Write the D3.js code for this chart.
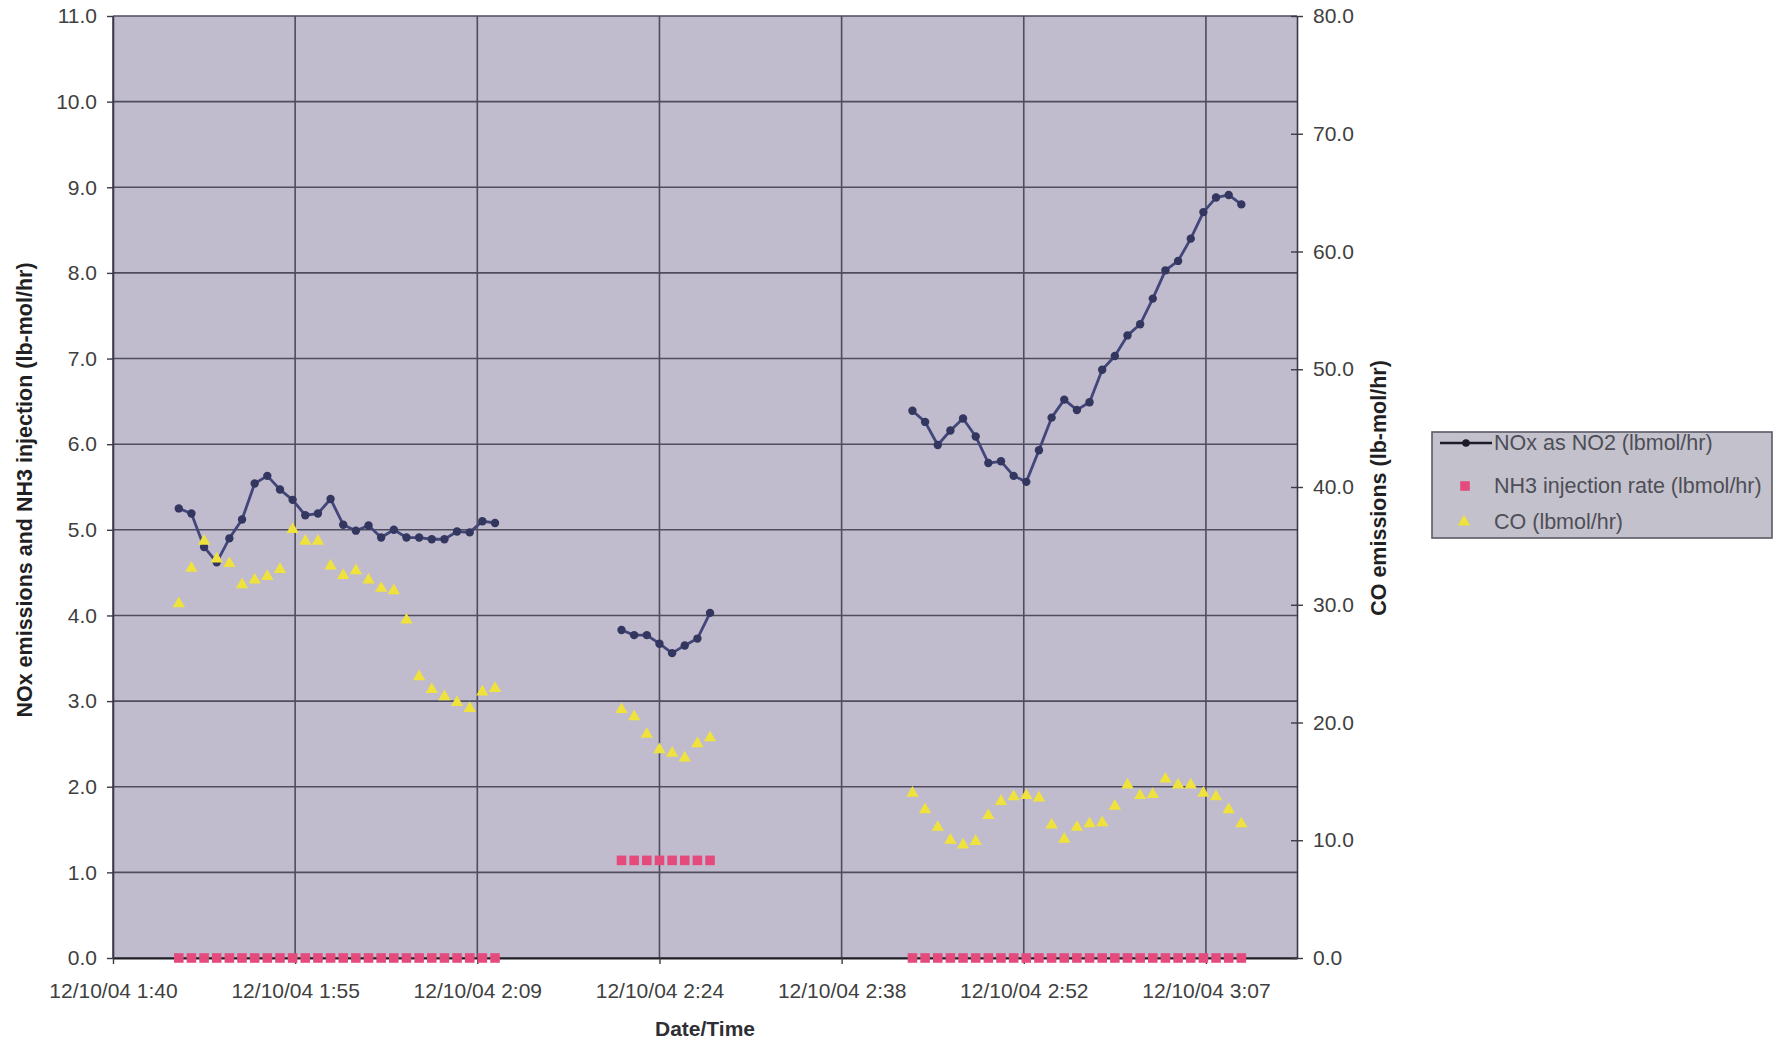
<!DOCTYPE html>
<html>
<head>
<meta charset="utf-8">
<script src="https://cdn.jsdelivr.net/npm/d3@7"></script>
<style>
  html, body { margin: 0; padding: 0; background: #ffffff; }
  svg { display: block; font-family: "Liberation Sans", Arial, sans-serif; }
</style>
</head>
<body>
<svg id="chart" width="1785" height="1041"></svg>
<script>
// ---- Run 1: 1:46 - 2:11 ----
const timesA = ["1:46","1:47","1:48","1:49","1:50","1:51","1:52","1:53","1:54","1:55","1:56","1:57","1:58",
                "1:59","2:00","2:01","2:02","2:03","2:04","2:05","2:06","2:07","2:08","2:09","2:10","2:11"];
const noxA = [5.25,5.19,4.80,4.62,4.90,5.12,5.54,5.63,5.47,5.35,5.17,5.19,5.36,
              5.06,4.99,5.05,4.91,5.00,4.91,4.91,4.89,4.89,4.98,4.97,5.10,5.08];
const nh3A = [0,0,0,0,0,0,0,0,0,0,0,0,0,0,0,0,0,0,0,0,0,0,0,0,0,0];
const coA  = [30.1,33.1,35.4,33.9,33.5,31.7,32.1,32.4,33.0,36.4,35.4,35.4,33.3,
              32.5,32.9,32.1,31.4,31.2,28.7,23.9,22.8,22.2,21.7,21.2,22.6,22.9];

// ---- Run 2: 2:21 - 2:28 ----
const timesB = ["2:21","2:22","2:23","2:24","2:25","2:26","2:27","2:28"];
const noxB = [3.83,3.77,3.77,3.67,3.56,3.65,3.73,4.03];
const nh3B = [1.14,1.14,1.14,1.14,1.14,1.14,1.14,1.14];
const coB  = [21.1,20.5,19.0,17.7,17.4,17.0,18.2,18.7];

// ---- Run 3: 2:44 - 3:10 ----
const timesC = ["2:44","2:45","2:46","2:47","2:48","2:49","2:50","2:51","2:52","2:53","2:54","2:55","2:56","2:57",
                "2:58","2:59","3:00","3:01","3:02","3:03","3:04","3:05","3:06","3:07","3:08","3:09","3:10"];
const noxC = [6.39,6.26,5.99,6.16,6.30,6.09,5.78,5.80,5.63,5.56,5.93,6.31,6.52,6.40,
              6.49,6.87,7.03,7.27,7.40,7.70,8.03,8.14,8.40,8.71,8.88,8.91,8.80];
const nh3C = [0,0,0,0,0,0,0,0,0,0,0,0,0,0,0,0,0,0,0,0,0,0,0,0,0,0,0];
const coC  = [14.0,12.6,11.1,10.0,9.6,9.9,12.1,13.3,13.7,13.8,13.6,11.3,10.1,11.1,
              11.4,11.5,12.9,14.7,13.8,13.9,15.2,14.7,14.7,14.0,13.7,12.6,11.4];

// ---- Axes ----
const xDomain = ["1:40:48","3:14:24"];
const xTicks = ["1:40:48","1:55:12","2:09:36","2:24:00","2:38:24","2:52:48","3:07:12"];
const leftTicks = [0,1,2,3,4,5,6,7,8,9,10,11];
const rightTicks = [0,10,20,30,40,50,60,70,80];

const seriesNames = ["NOx as NO2 (lbmol/hr)", "NH3 injection rate (lbmol/hr)", "CO (lbmol/hr)"];

const parseT = s => { const [h, m, sec] = s.split(":").map(Number); return new Date(2004, 11, 10, h, m, sec || 0); };

const runs = [
  {times: timesA, nox: noxA, nh3: nh3A, co: coA},
  {times: timesB, nox: noxB, nh3: nh3B, co: coB},
  {times: timesC, nox: noxC, nh3: nh3C, co: coC}
].map(r => r.times.map((t, i) => ({t: parseT(t), nox: r.nox[i], nh3: r.nh3[i], co: r.co[i]})));

const svg = d3.select("#chart");
const plot = {left: 113, right: 1297, top: 16, bottom: 958};

const x = d3.scaleTime().domain(xDomain.map(parseT)).range([plot.left, plot.right]);
const yL = d3.scaleLinear().domain([0, 11]).range([plot.bottom, plot.top]);
const yR = d3.scaleLinear().domain([0, 80]).range([plot.bottom, plot.top]);

const C = {
  bg: "#c0bccd", grid: "#4e4c5e", axis: "#3a3a44", tick: "#404040",
  nox: "#42467a", noxMark: "#33365e", nh3: "#e44b7c", co: "#f0e23c"
};

// plot area
svg.append("rect")
  .attr("x", plot.left).attr("y", plot.top)
  .attr("width", plot.right - plot.left).attr("height", plot.bottom - plot.top)
  .attr("fill", C.bg);

// gridlines
svg.append("g").selectAll("line").data(leftTicks).join("line")
  .attr("x1", plot.left).attr("x2", plot.right)
  .attr("y1", d => yL(d)).attr("y2", d => yL(d))
  .attr("stroke", C.grid).attr("stroke-width", 1.6);
svg.append("g").selectAll("line").data(xTicks.map(parseT)).join("line")
  .attr("x1", d => x(d)).attr("x2", d => x(d))
  .attr("y1", plot.top).attr("y2", plot.bottom)
  .attr("stroke", C.grid).attr("stroke-width", 1.6);

// axes
const fmtX = d3.timeFormat("%m/%d/%y %-H:%M");
const xAxis = svg.append("g").attr("transform", `translate(0,${plot.bottom})`)
  .call(d3.axisBottom(x).tickValues(xTicks.map(parseT)).tickFormat(fmtX).tickSizeInner(6).tickSizeOuter(0).tickPadding(19));
const yAxisL = svg.append("g").attr("transform", `translate(${plot.left},0)`)
  .call(d3.axisLeft(yL).tickValues(leftTicks).tickFormat(d3.format(".1f")).tickSizeInner(6).tickSizeOuter(0).tickPadding(10));
const yAxisR = svg.append("g").attr("transform", `translate(${plot.right},0)`)
  .call(d3.axisRight(yR).tickValues(rightTicks).tickFormat(d3.format(".1f")).tickSizeInner(6).tickSizeOuter(0).tickPadding(10));
yAxisR.selectAll(".tick line").attr("x1", -6);

[xAxis, yAxisL, yAxisR].forEach(g => {
  g.select(".domain").attr("stroke", C.axis).attr("stroke-width", 1.6);
  g.selectAll(".tick line").attr("stroke", C.axis).attr("stroke-width", 1.4);
  g.selectAll(".tick text").attr("fill", C.tick).attr("font-size", 21)
    .attr("font-family", "'Liberation Sans', Arial, sans-serif");
});
xAxis.select(".domain").attr("stroke", "#1e1e24").attr("stroke-width", 2);

// axis titles
svg.append("text")
  .attr("transform", `translate(25,490) rotate(-90)`)
  .attr("text-anchor", "middle").attr("dominant-baseline", "central")
  .attr("font-size", 21.5).attr("font-weight", "bold").attr("fill", "#1f1f24")
  .text("NOx emissions and NH3 injection (lb-mol/hr)");
svg.append("text")
  .attr("transform", `translate(1379,488) rotate(-90)`)
  .attr("text-anchor", "middle").attr("dominant-baseline", "central")
  .attr("font-size", 21.5).attr("font-weight", "bold").attr("fill", "#1f1f24")
  .text("CO emissions (lb-mol/hr)");
svg.append("text")
  .attr("x", (plot.left + plot.right) / 2).attr("y", 1028)
  .attr("text-anchor", "middle").attr("dominant-baseline", "central")
  .attr("font-size", 21).attr("font-weight", "bold").attr("fill", "#2e2e34")
  .text("Date/Time");

// series
const noxLine = d3.line().x(d => x(d.t)).y(d => yL(d.nox));
const sq = d3.symbol().type(d3.symbolSquare).size(92);
const tri = d3.symbol().type(d3.symbolTriangle).size(66);

const gNox = svg.append("g");
runs.forEach(run => {
  gNox.append("path").datum(run).attr("d", noxLine)
    .attr("fill", "none").attr("stroke", C.nox).attr("stroke-width", 2.8).attr("stroke-linejoin", "round");
  gNox.append("g").selectAll("circle").data(run).join("circle")
    .attr("cx", d => x(d.t)).attr("cy", d => yL(d.nox)).attr("r", 4.2)
    .attr("fill", C.noxMark);
});

const gNh3 = svg.append("g");
runs.forEach(run => {
  gNh3.append("g").selectAll("path").data(run).join("path")
    .attr("d", sq).attr("transform", d => `translate(${x(d.t)},${yL(d.nh3)})`)
    .attr("fill", C.nh3);
});

const gCo = svg.append("g");
runs.forEach(run => {
  gCo.append("g").selectAll("path").data(run).join("path")
    .attr("d", tri).attr("transform", d => `translate(${x(d.t)},${yR(d.co)})`)
    .attr("fill", C.co);
});

// legend
const lg = svg.append("g").attr("transform", "translate(1432,432)");
lg.append("rect").attr("width", 340).attr("height", 106)
  .attr("fill", "#c3c1cc").attr("stroke", "#5a5a66").attr("stroke-width", 1.6);
const rowsY = [11, 54, 90];
lg.append("line").attr("x1", 8).attr("x2", 60).attr("y1", rowsY[0]).attr("y2", rowsY[0])
  .attr("stroke", "#1c1c28").attr("stroke-width", 2.6);
lg.append("circle").attr("cx", 34).attr("cy", rowsY[0]).attr("r", 3.8).attr("fill", "#1c1c28");
lg.append("path").attr("d", sq).attr("transform", `translate(33,${rowsY[1]})`).attr("fill", C.nh3);
lg.append("path").attr("d", tri).attr("transform", `translate(32,${rowsY[2]})`).attr("fill", C.co);
lg.selectAll("text.lbl").data(seriesNames).join("text")
  .attr("class", "lbl")
  .attr("x", 62).attr("y", (d, i) => rowsY[i])
  .attr("dominant-baseline", "central")
  .attr("font-size", 21.5).attr("fill", "#4e4e56")
  .text(d => d);
</script>
</body>
</html>
